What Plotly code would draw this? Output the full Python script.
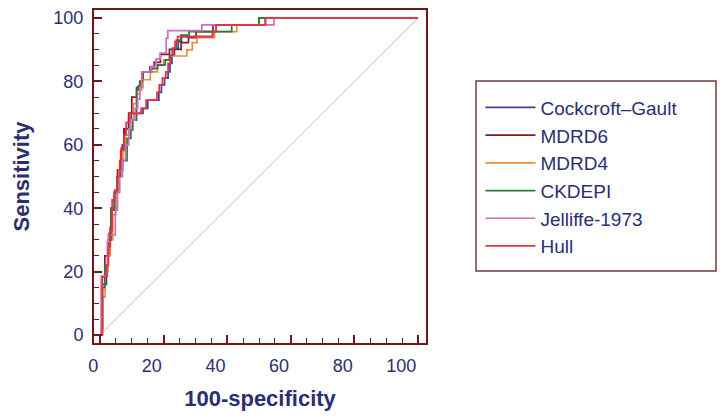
import plotly.graph_objects as go

# ---- data (100-specificity, sensitivity) ----
series_names = ["Cockcroft\u2013Gault", "MDRD6", "MDRD4", "CKDEPI", "Jelliffe-1973", "Hull"]

cg_x = [0, 0.7, 2.0, 2.6, 3.2, 3.5, 4.6, 5.5, 6.3, 7.0, 7.8, 9.0, 9.8, 13.5, 15.0, 18.5, 19.3, 20.3, 21.4, 22.0, 22.6, 23.4, 24.6, 25.6, 35.4, 36.5, 52.0, 100]
cg_y = [0, 16, 22, 28, 34, 39.4, 45, 50, 55, 60, 65, 68, 69.9, 71.5, 74.1, 76.5, 78.9, 81, 83, 85.7, 88.3, 90.4, 92.5, 94.1, 95.7, 97.8, 100, 100]

mdrd6_x = [0, 0.5, 1.5, 2.8, 3.5, 4.5, 5.5, 6.5, 7.5, 9.0, 10.0, 11.5, 12.5, 13.5, 15.7, 17.0, 19.0, 21.8, 25.5, 27.8, 30.2, 35.5, 50.0, 100]
mdrd6_y = [0, 15, 25, 32, 40, 45, 52, 58, 65, 70, 75, 78, 80, 83, 84.6, 86, 88.5, 90.1, 92.2, 93.8, 95.7, 97.8, 100, 100]

mdrd4_x = [0, 0.8, 1.6, 2.5, 3.2, 4.0, 5.0, 6.0, 7.2, 8.0, 9.5, 10.5, 11.5, 12.5, 13.5, 15.8, 18.0, 20.0, 22.0, 27.3, 29.0, 30.5, 36.0, 43.0, 50.0, 100]
mdrd4_y = [0, 12, 20, 25, 30, 38, 45, 52, 58, 63, 68, 73, 76, 78, 80.5, 83, 85, 86.8, 88, 89.9, 92.2, 93.8, 95.7, 97.8, 100, 100]

ckdepi_x = [0, 0.5, 0.8, 1.5, 2.5, 3.5, 4.6, 5.5, 7.0, 8.5, 9.7, 10.3, 11.5, 12.0, 12.5, 13.2, 16.2, 18.1, 20.5, 21.8, 22.7, 24.0, 25.4, 28.0, 41.4, 50.0, 100]
ckdepi_y = [0, 2, 15, 22, 30, 40, 45, 50, 55, 62, 64.7, 67.8, 77.3, 78.5, 80, 83, 84, 85.2, 86.8, 88.3, 90.4, 93.0, 94.6, 95.7, 97.8, 100, 100]

jel_x = [0, 0.4, 2.3, 2.6, 4.8, 5.5, 6.2, 7.0, 8.0, 9.0, 9.7, 11.0, 11.8, 12.5, 13.1, 16.0, 17.6, 18.9, 20.8, 21.3, 32.0, 54.7, 100]
jel_y = [0, 18.6, 29.4, 31.6, 39.4, 45, 50, 55, 60, 65, 67.8, 71.5, 74.4, 77.3, 83, 84.7, 87, 88.9, 93.6, 96, 97.8, 100, 100]

hull_x = [0, 0.7, 2.1, 2.6, 3.2, 3.8, 4.6, 5.3, 6.2, 6.6, 7.5, 8.2, 9.2, 12.9, 14.5, 17.9, 18.6, 19.6, 20.7, 21.4, 22.1, 22.9, 23.6, 24.4, 35.4, 36.5, 52.0, 100]
hull_y = [0, 18.3, 22, 27.8, 33, 42.6, 45.7, 50, 55, 58.9, 63, 67, 69.9, 71.5, 74.1, 76.5, 78.9, 81, 83, 85.7, 88.3, 90.4, 92.5, 94.1, 95.7, 97.8, 100, 100]

ref_x = [0, 100]
ref_y = [0, 100]

x_ticks = [0, 20, 40, 60, 80, 100]
y_ticks = [0, 20, 40, 60, 80, 100]

series_x = [cg_x, mdrd6_x, mdrd4_x, ckdepi_x, jel_x, hull_x]
series_y = [cg_y, mdrd6_y, mdrd4_y, ckdepi_y, jel_y, hull_y]
colors = ["#3d3f98", "#8a1a22", "#f08a3c", "#2a7a3c", "#c870c8", "#e8323c"]

TEXT = "#2b2e72"
FRAME = "#6e1a1c"
FONT = "Liberation Sans, Arial, sans-serif"

fig = go.Figure()
fig.add_trace(go.Scatter(x=ref_x, y=ref_y, mode="lines",
                         line=dict(color="#b8a8b0", width=0.8),
                         showlegend=False, hoverinfo="skip"))
for name, xs, ys, c in zip(series_names, series_x, series_y, colors):
    fig.add_trace(go.Scatter(x=xs, y=ys, mode="lines", name=name,
                             line=dict(color=c, width=1.7, shape="hv")))

axis_common = dict(
    showgrid=False, zeroline=False, showline=True, linecolor=FRAME, linewidth=2,
    mirror=True, ticks="inside", ticklen=8, tickwidth=1.5, tickcolor=FRAME,
    tickfont=dict(size=18, color=TEXT, family=FONT), automargin=False,
    ticklabelstandoff=5,
    minor=dict(dtick=5, ticks="inside", ticklen=5, tickwidth=1.2, tickcolor=FRAME),
)

fig.update_xaxes(range=[-1.9, 102.5], tickvals=x_ticks, ticklabelposition="outside left",
                 title=dict(text="<b>100-specificity</b>", font=dict(size=22, color=TEXT, family=FONT), standoff=16),
                 **axis_common)
fig.update_yaxes(range=[-2.5, 102.5], tickvals=y_ticks,
                 title=dict(text="<b>Sensitivity</b>", font=dict(size=22, color=TEXT, family=FONT), standoff=18),
                 **axis_common)

fig.add_shape(type="rect", xref="paper", yref="paper",
              x0=1.1506, x1=1.8735, y0=0.2162, y1=0.7868,
              line=dict(color="#7a3838", width=1.5), fillcolor="rgba(0,0,0,0)")

# page body has an 8px default margin, so the figure is 8px smaller and margins are offset
fig.update_layout(
    width=719, height=412,
    margin=dict(l=86, r=301, t=2, b=77),
    plot_bgcolor="white", paper_bgcolor="white",
    font=dict(family=FONT, color=TEXT),
    legend=dict(x=1.164, y=0.764, xanchor="left", yanchor="top",
                font=dict(size=19, color=TEXT, family=FONT),
                bgcolor="rgba(0,0,0,0)", borderwidth=0, itemwidth=50,
                tracegroupgap=0),
    showlegend=True,
)

fig.write_html("out.html")
